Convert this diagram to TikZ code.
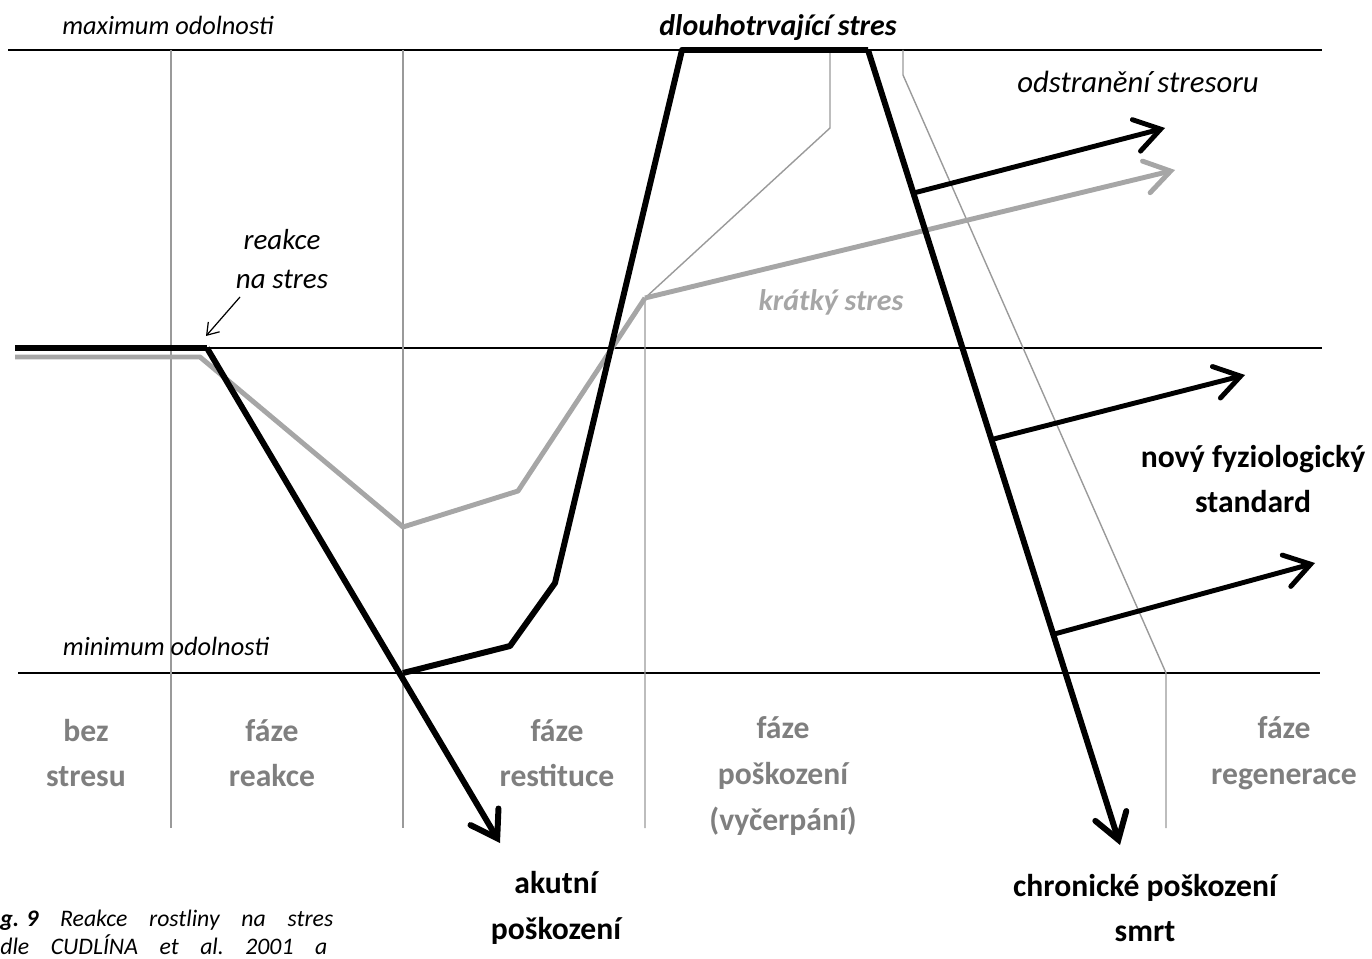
\documentclass[tikz,border=0pt]{standalone}
\usepackage{fontspec}
\setmainfont{Carlito}
\usetikzlibrary{arrows.meta, calc, positioning}
\definecolor{phasegray}{HTML}{7F7F7F}
\definecolor{shortgray}{HTML}{A6A6A6}
\definecolor{gridgray}{HTML}{9A9A9A}
\tikzset{
	levelline/.style={
			draw=black,
			line width=0.8pt
		},
	gridline/.style={
			draw=gridgray,
			line width=0.8pt
		},
	longpath/.style={
			draw=black,
			line width=3.4pt,
			line join=round
		},
	shortpath/.style={
			draw=shortgray,
			line width=2.8pt,
			line join=round
		},
	branch/.style={
			draw=black,
			line width=2.8pt,
			-{Straight Barb[length=5mm, width=6.5mm, line cap=round]}
		},
	pointer/.style={
			draw=black,
			line width=0.7pt,
			-{Straight Barb[length=2.2mm, width=3mm]}
		},
	italiclabel/.style={
			font=\itshape\fontsize{15}{22.7}\selectfont,
			inner sep=0pt,
			align=center
		},
	phaselabel/.style={
			font=\bfseries\fontsize{18}{26}\selectfont,
			text=phasegray,
			inner sep=0pt,
			align=center
		},
	outcomelabel/.style={
			font=\bfseries\fontsize{18}{26}\selectfont,
			text=black,
			inner sep=0pt,
			align=center
		}
}

\begin{document}
\begin{tikzpicture}[x=0.02cm, y=-0.02cm]
\useasboundingbox (0,0) rectangle (1372,959);

% levels
\coordinate (maxL) at (8,50);
\coordinate (maxR) at (1322,50);
\coordinate (midL) at (15,348);
\coordinate (midR) at (1322,348);
\coordinate (minL) at (18,673);
\coordinate (minR) at (1320,673);
\draw[levelline] (maxL) -- (maxR);
\draw[levelline] (midL) -- (midR);
\draw[levelline] (minL) -- (minR);

% phase borders
\coordinate (b1t) at (171,50);
\coordinate (b1b) at (171,828);
\coordinate (b2t) at (403,50);
\coordinate (b2b) at (403,828);
\coordinate (b3b) at (645,828);
\coordinate (b4t) at (903,50);
\coordinate (b4k) at (903,75);
\coordinate (b4m) at (1166,673);
\coordinate (b4b) at (1166,828);
\coordinate (b5t) at (830,50);
\coordinate (b5k) at (830,128);
\draw[gridline] (b1t) -- (b1b);
\draw[gridline] (b2t) -- (b2b);
\draw[gridline] (b4t) -- (b4k) -- (b4m) -- (b4b);

% short stress
\coordinate (sStart) at (15,357);
\coordinate (sReact) at (200,357);
\coordinate (sLow) at (403,527);
\coordinate (sRise) at (518,491);
\coordinate (sTurn) at (645,298);
\coordinate (sEnd) at (1175,170);
\draw[gridline] (b5t) -- (b5k) -- (sTurn) -- (b3b);
\draw[shortpath] (sStart) -- (sReact) -- (sLow) -- (sRise) -- (sTurn);
\draw[shortpath, -{Straight Barb[length=5mm, width=6.5mm, line cap=round]}] (sTurn) -- (sEnd);

% long stress
\coordinate (lStart) at (15,348);
\coordinate (lReact) at (207,348);
\coordinate (acute) at (500,843);
\coordinate (lLow) at (403,673);
\coordinate (lRise1) at (510,646);
\coordinate (lRise2) at (555,583);
\coordinate (lTopL) at (682,50);
\coordinate (lTopR) at (868,50);
\coordinate (chronic) at (1120,845);
\draw[longpath] (lStart) -- (lReact);
\draw[longpath, -{Straight Barb[length=5mm, width=6.5mm, line cap=round]}] (lReact) -- (acute);
\draw[longpath] (lLow) -- (lRise1) -- (lRise2) -- (lTopL) -- (lTopR);
\draw[longpath, -{Straight Barb[length=5mm, width=6.5mm, line cap=round]}] (lTopR) -- (chronic);

% ways out
\coordinate (out1) at ($(lTopR)!0.18!(chronic)$);
\coordinate (out2) at ($(lTopR)!0.49!(chronic)$);
\coordinate (out3) at ($(lTopR)!0.735!(chronic)$);
\coordinate (tip1) at (1165,128);
\coordinate (tip2) at (1245,375);
\coordinate (tip3) at (1315,563);
\draw[branch] (out1) -- (tip1);
\draw[branch] (out2) -- (tip2);
\draw[branch] (out3) -- (tip3);

% labels
\node[italiclabel] (maxText) at (168,25) {maximum odolnosti};
\node[italiclabel] (minText) at (166,646) {minimum odolnosti};
\node[italiclabel, font=\bfseries\itshape\fontsize{17}{22}\selectfont] (longText) at (778,28) {dlouhotrvající stres};
\node[italiclabel, font=\itshape\fontsize{17.5}{22}\selectfont] (removeText) at (1138,82) {odstranění stresoru};
\node[italiclabel, font=\itshape\fontsize{16.5}{22.7}\selectfont] (reactText) at (282,259) {reakce\\na stres};
\node[italiclabel, font=\bfseries\itshape\fontsize{17}{22}\selectfont, text=shortgray] (shortText) at (831,302) {krátký stres};
\coordinate (pFrom) at (240,297);
\coordinate (pTo) at (206,336);
\draw[pointer] (pFrom) -- (pTo);

\node[phaselabel] (ph1) at (86,753) {bez\\stresu};
\node[phaselabel] (ph2) at (272,753) {fáze\\reakce};
\node[phaselabel] (ph3) at (557,753) {fáze\\restituce};
\node[phaselabel] (ph4) at (783,776) {fáze\\poškození\\(vyčerpání)};
\node[phaselabel] (ph5) at (1284,753) {fáze\\regenerace};

\node[outcomelabel] (newStd) at (1253,479) {nový fyziologický\\standard};
\node[outcomelabel] (acuteText) at (556,908) {akutní\\poškození};
\node[outcomelabel] (chronText) at (1145,908) {chronické poškození\\smrt};

% caption, cut by the page edge
\node[anchor=base west, inner sep=0pt, font=\itshape\fontsize{13.5}{16}\selectfont] (cap1) at (0,926)
  {\hbox to 6.66cm{\textbf{g. 9}\hfill Reakce\hfill rostliny\hfill na\hfill stres}};
\node[anchor=base west, inner sep=0pt, font=\itshape\fontsize{13.5}{16}\selectfont] (cap2) at (0,954)
  {\hbox to 6.54cm{dle\hfill CUDLÍNA\hfill et\hfill al.\hfill 2001\hfill a}};
\end{tikzpicture}
\end{document}
